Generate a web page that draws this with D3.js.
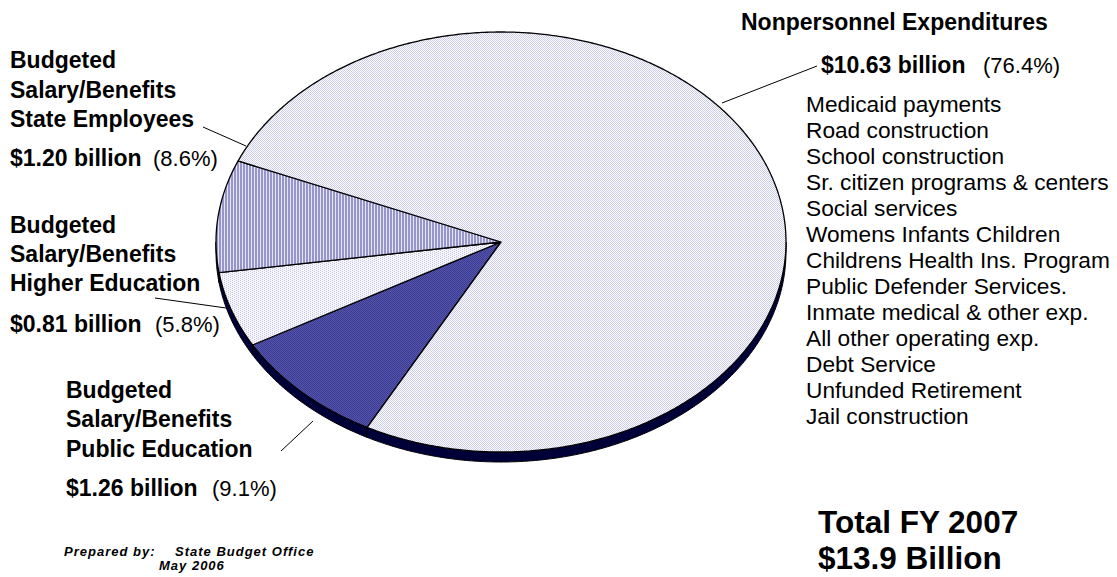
<!DOCTYPE html>
<meta charset="utf-8">
<style>
    body { margin: 0; background: #fff; }
    svg { display: block; font-family: "Liberation Sans", Arial, sans-serif; }
    .lbl { font-size: 22px; fill: #000; }
    .b { font-weight: bold; font-size: 23px; }
    .item { font-size: 22.7px; }
    .foot { font-size: 13px; font-weight: bold; font-style: italic; letter-spacing: 1px; }
    .leader { stroke: #000; stroke-width: 1; fill: none; }
</style>
<svg width="1117" height="577"></svg>
<script src="https://cdn.jsdelivr.net/npm/d3@7"></script>
<script>

    // slices (clockwise from the lower left)
    var categories = ["Public Education", "Higher Education", "State Employees", "Nonpersonnel Expenditures"];
    var billions = [1.26, 0.81, 1.20, 10.63];
    var percents = ["9.1%", "5.8%", "8.6%", "76.4%"];
    var nonpersonnelItems = ["Medicaid payments", "Road construction", "School construction",
        "Sr. citizen programs & centers", "Social services", "Womens Infants Children",
        "Childrens Health Ins. Program", "Public Defender Services.", "Inmate medical & other exp.",
        "All other operating exp.", "Debt Service", "Unfunded Retirement", "Jail construction"];

    var svg = d3.select("svg");

    // 3d-ish tilted pie geometry
    var cx = 501, cy = 242, rx = 285, ry = 210, depth = 10;
    var deg = Math.PI / 180;

    var defs = svg.append("defs");
    function pattern(id, w, h, bg, rects) {
        var p = defs.append("pattern").attr("id", id).attr("patternUnits", "userSpaceOnUse")
            .attr("width", w).attr("height", h);
        p.append("rect").attr("width", w).attr("height", h).attr("fill", bg);
        rects.forEach(function(r) {
            p.append("rect").attr("x", r[0]).attr("y", r[1]).attr("width", r[2]).attr("height", r[3]).attr("fill", r[4]);
        });
    }
    pattern("pPublic", 2, 2, "#5454aa", [[0, 0, 1, 1, "#3c3c92"], [1, 1, 1, 1, "#3c3c92"]]);
    pattern("pHigher", 4, 2, "#f6f6fc", [[0, 0, 1, 1, "#c4c4e6"], [2, 1, 1, 1, "#c4c4e6"]]);
    pattern("pState", 3, 3, "#9696ca", [[2, 0, 1, 3, "#e4e4f4"]]);
    pattern("pNon", 2, 2, "#ffffff", [[0, 0, 1, 1, "#cbcbee"], [1, 1, 1, 1, "#cbcbee"]]);
    var fills = ["url(#pPublic)", "url(#pHigher)", "url(#pState)", "url(#pNon)"];

    var pie = d3.pie().sort(null)
        .startAngle(208 * deg)
        .endAngle(208 * deg + 2 * Math.PI);
    var arcs = pie(billions);

    // d3 angle (0 at 12 o'clock, clockwise) -> point on the ellipse
    function pt(a, dy) {
        var t = a - Math.PI / 2;
        return [cx + rx * Math.cos(t), cy + ry * Math.sin(t) + (dy || 0)];
    }
    function arcPoints(a0, a1, dy) {
        var n = Math.max(2, Math.ceil(Math.abs(a1 - a0) / (0.5 * deg)));
        return d3.range(n + 1).map(function(i) { return pt(a0 + (a1 - a0) * i / n, dy); });
    }
    var line = d3.line();

    // side walls: visible where the screen angle is between 0 and 180 deg
    var side = svg.append("g");
    arcs.forEach(function(d) {
        for (var k = -1; k <= 2; k++) {
            var lo = Math.max(d.startAngle, 90 * deg + k * 2 * Math.PI);
            var hi = Math.min(d.endAngle, 270 * deg + k * 2 * Math.PI);
            if (hi > lo) {
                var top = arcPoints(lo, hi, 0);
                var bot = arcPoints(hi, lo, depth);
                side.append("path")
                    .attr("d", line(top.concat(bot)) + "Z")
                    .attr("fill", "#000038")
                    .attr("stroke", "#000")
                    .attr("stroke-width", 1);
            }
        }
    });

    // top faces
    svg.append("g").selectAll("path")
        .data(arcs)
        .enter().append("path")
        .attr("d", function(d) {
            return line([[cx, cy]].concat(arcPoints(d.startAngle, d.endAngle, 0))) + "Z";
        })
        .attr("fill", function(d, i) { return fills[i]; })
        .attr("stroke", "#000")
        .attr("stroke-width", 1.3)
        .attr("stroke-linejoin", "round");

    // labels
    function text(x, y, s, cls) {
        return svg.append("text").attr("x", x).attr("y", y).attr("class", "lbl " + (cls || "")).text(s);
    }

    // State employees
    text(10, 68, "Budgeted", "b");
    text(10, 98, "Salary/Benefits", "b");
    text(10, 127, "State Employees", "b");
    text(10, 166, "$" + billions[2].toFixed(2) + " billion", "b");
    text(153, 166, "(" + percents[2] + ")");

    // Higher education
    text(10, 233, "Budgeted", "b");
    text(10, 262, "Salary/Benefits", "b");
    text(10, 291, "Higher Education", "b");
    text(10, 332, "$" + billions[1].toFixed(2) + " billion", "b");
    text(155, 332, "(" + percents[1] + ")");

    // Public education
    text(66, 398, "Budgeted", "b");
    text(66, 427, "Salary/Benefits", "b");
    text(66, 457, "Public Education", "b");
    text(66, 496, "$" + billions[0].toFixed(2) + " billion", "b");
    text(212, 496, "(" + percents[0] + ")");

    // Nonpersonnel
    text(741, 30, "Nonpersonnel Expenditures", "b");
    text(821, 73, "$" + billions[3].toFixed(2) + " billion", "b");
    text(983, 73, "(" + percents[3] + ")");
    svg.append("g").selectAll("text")
        .data(nonpersonnelItems)
        .enter().append("text")
        .attr("class", "lbl item")
        .attr("x", 806)
        .attr("y", function(d, i) { return 112 + i * 26; })
        .text(function(d) { return d; });

    // leader lines
    var leaders = [[[203, 127], [246, 146]], [[155, 298], [226, 308]], [[281, 451], [313, 421]], [[722, 103], [817, 66]]];
    svg.append("g").selectAll("path")
        .data(leaders)
        .enter().append("path")
        .attr("class", "leader")
        .attr("d", function(d) { return line(d); });

    // totals
    svg.append("text").attr("x", 818).attr("y", 533).attr("class", "lbl b")
        .style("font-size", "31.5px").text("Total FY 2007");
    svg.append("text").attr("x", 818).attr("y", 569).attr("class", "lbl b")
        .style("font-size", "31.5px").text("$13.9 Billion");

    // footer
    svg.append("text").attr("x", 64).attr("y", 556).attr("class", "foot").text("Prepared by:");
    svg.append("text").attr("x", 175).attr("y", 556).attr("class", "foot").text("State Budget Office");
    svg.append("text").attr("x", 159).attr("y", 570).attr("class", "foot").text("May 2006");

</script>
